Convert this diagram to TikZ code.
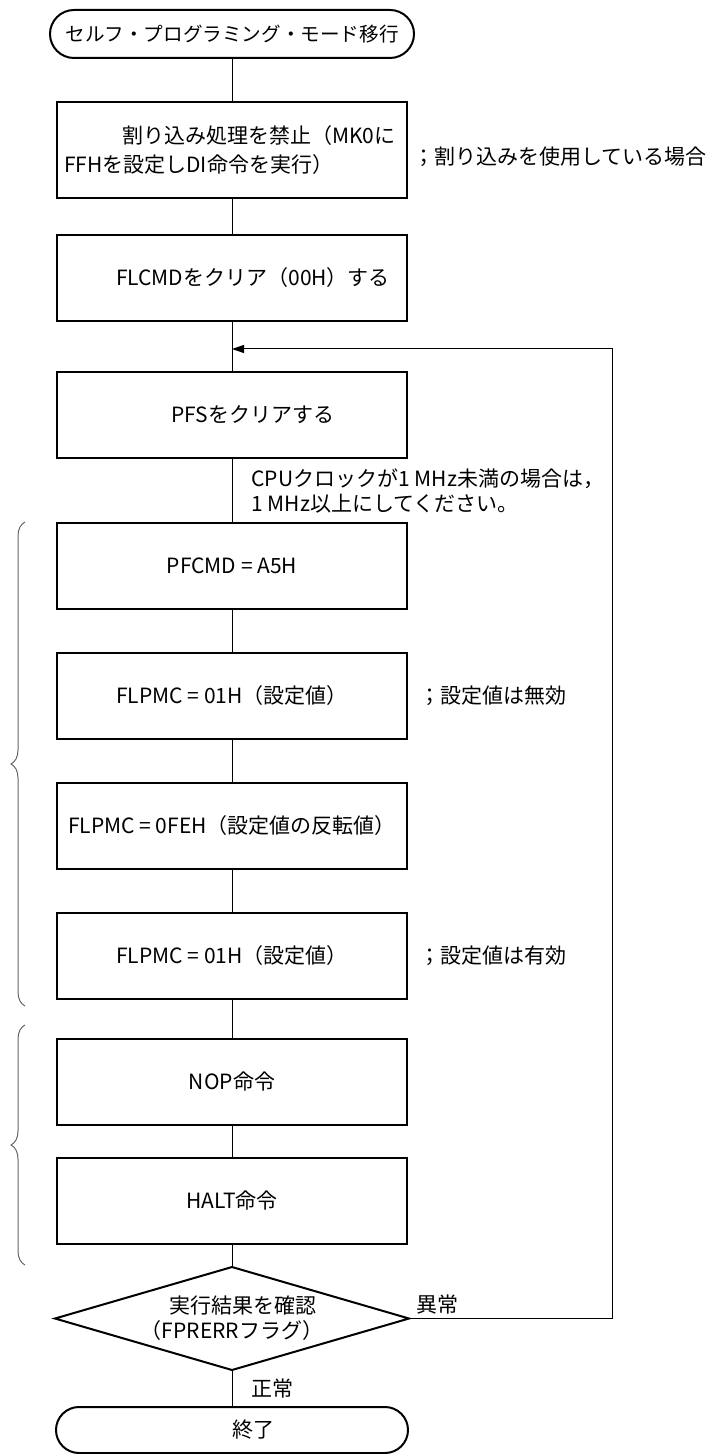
\documentclass[tikz,border=0pt]{standalone}
\usepackage{fontspec}
\newfontfamily\jpfont{Noto Sans CJK JP}
\usetikzlibrary{arrows.meta,positioning,shapes.geometric,decorations.pathreplacing}
\tikzset{
  >=stealth,
  font=\jpfont\fontsize{10.5}{12.5}\selectfont,
  term/.style ={draw, line width=1pt, outer sep=0pt, rounded corners=12pt, minimum height=24pt, minimum width=176pt, align=center},
  proc/.style ={draw, line width=1pt, outer sep=0pt, minimum height=43pt, minimum width=175pt, align=center},
  dec/.style  ={draw, line width=1pt, outer sep=0pt, diamond, aspect=3.4, minimum width=177pt, minimum height=51.5pt, inner sep=0pt, align=center},
  ln/.style   ={line width=0.5pt},
  larr/.style ={-{Triangle[length=6pt,width=4pt]}, line width=0.5pt},
  lbl/.style  ={align=left, inner sep=0pt},
  brc/.style  ={decorate, decoration={brace, amplitude=7pt}, line width=0.5pt, black!60},
}

\begin{document}
\begin{tikzpicture}
  \useasboundingbox (0,0) rectangle (359pt,-727pt);
  \node[term, minimum width=182pt, font=\jpfont\fontsize{9.8}{12}\selectfont] (start) at (116pt,-17pt) {セルフ・プログラミング・モード移行};
  \node[proc, minimum height=48pt, text width=168pt, inner xsep=3.5pt, align=left, below=22pt of start] (b1) {\hspace*{29pt}割り込み処理を禁止（MK0に\\[2pt]FFHを設定しDI命令を実行）};
  \node[proc, below=18.5pt of b1] (b2) {　　FLCMDをクリア（00H）する};
  \node[proc, below=25.5pt of b2] (b3) {　　PFSをクリアする};
  \node[proc, below=32.5pt of b3] (b4) {PFCMD = A5H};
  \node[proc, below=22pt of b4] (b5) {FLPMC = 01H（設定値）};
  \node[proc, below=22pt of b5] (b6) {FLPMC = 0FEH（設定値の反転値）};
  \node[proc, below=22pt of b6] (b7) {FLPMC = 01H（設定値）};
  \node[proc, below=20pt of b7] (b8) {NOP命令};
  \node[proc, below=16.5pt of b8] (b9) {HALT命令};
  \node[dec, below=11.5pt of b9] (chk) {　実行結果を確認\\（FPRERRフラグ）};
  \node[term, minimum height=23pt, rounded corners=11.5pt, below=18.5pt of chk] (end) {　　終了};
  \node[lbl, right=3pt of b1, yshift=-3.5pt] (n1) {；割り込みを使用している場合};
  \node[lbl, right=6pt of b5] (n5) {；設定値は無効};
  \node[lbl, right=6pt of b7] (n7) {；設定値は有効};
  \coordinate[below=14pt of b2] (join);
  \draw[ln] (start) -- (b1);
  \draw[ln] (b1) -- (b2);
  \draw[ln] (b2) -- (b3);
  \draw[ln] (b3) -- node[lbl, right=9.5pt]{CPUクロックが1 MHz未満の場合は，\\1 MHz以上にしてください。} (b4);
  \draw[ln] (b4) -- (b5);
  \draw[ln] (b5) -- (b6);
  \draw[ln] (b6) -- (b7);
  \draw[ln] (b7) -- (b8);
  \draw[ln] (b8) -- (b9);
  \draw[ln] (b9) -- (chk);
  \draw[ln] (chk) -- node[lbl, right=9.5pt]{正常} (end);
  \draw[larr] (chk.east) -- node[lbl, above=2pt, pos=0.14]{異常} ++(101.5pt,0) |- (join);
  \coordinate (g1t) at ([xshift=-16pt,yshift=0.5pt]b4.north west);
  \coordinate (g1b) at ([xshift=-16pt,yshift=-3.5pt]b7.south west);
  \draw[brc] (g1b) -- (g1t);
  \coordinate (g2t) at ([xshift=-16pt,yshift=7pt]b8.north west);
  \coordinate (g2b) at ([xshift=-16pt,yshift=-10.5pt]b9.south west);
  \draw[brc] (g2b) -- (g2t);
\end{tikzpicture}
\end{document}
